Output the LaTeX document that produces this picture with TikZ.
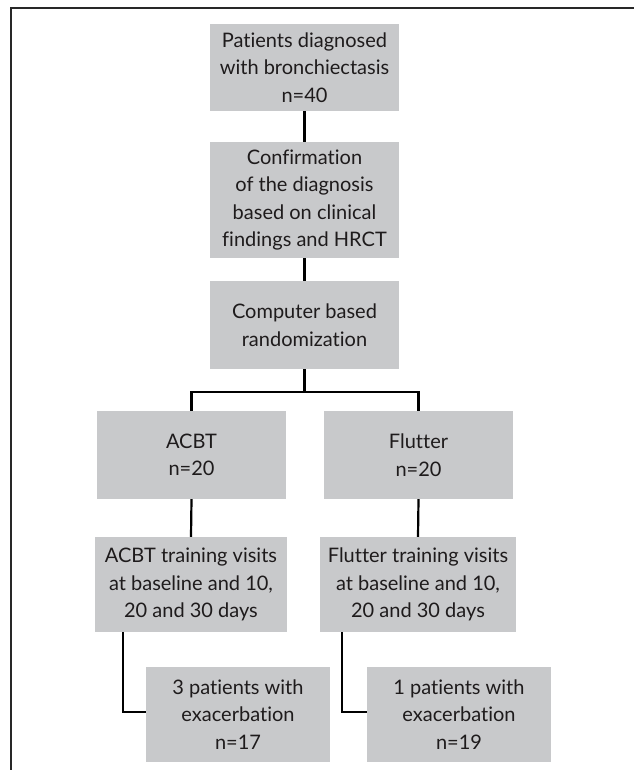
\documentclass[tikz,border=0pt]{standalone}
\usepackage{fontspec}
\setmainfont{Lato}[Ligatures=NoCommon]
\definecolor{boxgray}{RGB}{200,201,203}
\definecolor{ink}{RGB}{30,27,28}
\definecolor{framegray}{RGB}{40,40,40}
\begin{document}
\begin{tikzpicture}[x=1pt,y=-1pt,
  box/.style={rectangle, fill=boxgray, inner sep=0pt, align=center, text=ink,
    font={\fontsize{20}{27.5}\selectfont}},
  conn/.style={draw=black, line width=2.2pt}]
\useasboundingbox (0,0) rectangle (634,770);
\draw[framegray, line width=1.8pt] (11,770) -- (11,8) -- (634,8);

\node[box, minimum width=189pt, minimum height=87pt] (b1) at (304.5,67.5)
  {Patients diagnosed\\with bronchiectasis\\n=40};
\node[box, minimum width=189pt, minimum height=116pt] (b2) at (304.5,200)
  {Confirmation\\of the diagnosis\\based on clinical\\findings and HRCT};
\node[box, minimum width=189pt, minimum height=88pt] (b3) at (304.5,325)
  {Computer based\\randomization};
\node[box, minimum width=189pt, minimum height=88pt] (acbt) at (191.5,455)
  {ACBT\\n=20};
\node[box, minimum width=189pt, minimum height=88pt] (flut) at (418.5,455)
  {Flutter\\n=20};
\node[box, minimum width=192pt, minimum height=95pt] (trA) at (191,584.5)
  {ACBT training visits\\at baseline and 10,\\20 and 30 days};
\node[box, minimum width=196pt, minimum height=95pt] (trF) at (418,584.5)
  {Flutter training visits\\at baseline and 10,\\20 and 30 days};
\node[box, minimum width=184pt, minimum height=95pt] (exA) at (238,714.5)
  {3 patients with\\exacerbation\\n=17};
\node[box, minimum width=184pt, minimum height=95pt] (exF) at (459,714.5)
  {1 patients with\\exacerbation\\n=19};

\coordinate (split) at (304.5,392);
\draw[conn] (b1.south) -- (b2.north);
\draw[conn] (b2.south) -- (b3.north);
\draw[conn] (b3.south) -- (split);
\draw[conn] (acbt.north) -- (acbt.north |- split) -- (flut.north |- split) -- (flut.north);
\draw[conn] (acbt.south) -- (trA.north);
\draw[conn] (flut.south) -- (trF.north);
\draw[conn] ([xshift=-68.3pt]trA.south) |- ([yshift=2.5pt]exA.west);
\draw[conn] ([xshift=-76pt]trF.south) |- ([yshift=2.5pt]exF.west);
\end{tikzpicture}
\end{document}
